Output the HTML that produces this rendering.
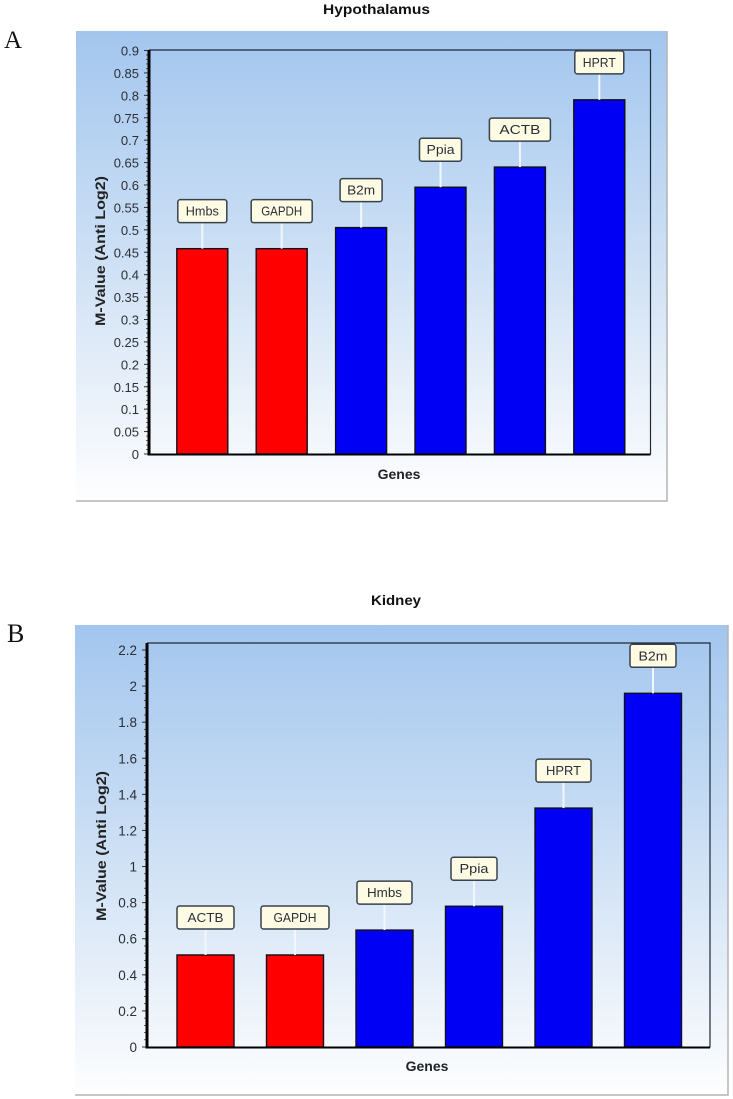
<!DOCTYPE html>
<html lang="en">
<head>
<meta charset="utf-8">
<title>M-Value charts: Hypothalamus and Kidney</title>
<style>
html,body{margin:0;padding:0;background:#fff;}
#stage{display:block;width:733px;height:1099px;}
text{font-family:"Liberation Sans",Arial,sans-serif;}
.soft{filter:blur(0.35px);}
</style>
</head>
<body>
<svg id="stage" xmlns="http://www.w3.org/2000/svg" width="733" height="1099" viewBox="0 0 733 1099">
  <defs>
    <linearGradient id="panelFill" x1="0" y1="0" x2="0" y2="1">
      <stop offset="0" stop-color="#a3c6ee"/>
      <stop offset="0.5" stop-color="#cfe1f5"/>
      <stop offset="0.85" stop-color="#f0f5fb"/>
      <stop offset="1" stop-color="#fefeff"/>
    </linearGradient>
  </defs>
  <text x="4" y="48" font-size="25" style="font-family:'Liberation Serif',serif" fill="#111">A</text>
  <text x="7" y="642" font-size="26" style="font-family:'Liberation Serif',serif" fill="#111">B</text>
  <text x="376.5" y="14" font-size="13.5" font-weight="bold" text-anchor="middle" fill="#111" textLength="107" lengthAdjust="spacingAndGlyphs">Hypothalamus</text>
  <text x="396" y="605" font-size="13.5" font-weight="bold" text-anchor="middle" fill="#111" textLength="50" lengthAdjust="spacingAndGlyphs">Kidney</text>
  <g id="chart-a" class="soft"></g>
  <g id="chart-b" class="soft"></g>
</svg>
<script>
const hypoCategories = ["Hmbs", "GAPDH", "B2m", "Ppia", "ACTB", "HPRT"];
const hypoValues = [0.458, 0.458, 0.505, 0.595, 0.64, 0.79];
const hypoTickLabels = ["0", "0.05", "0.1", "0.15", "0.2", "0.25", "0.3", "0.35", "0.4", "0.45", "0.5", "0.55", "0.6", "0.65", "0.7", "0.75", "0.8", "0.85", "0.9"];
const hypoStableCount = 2;

const kidneyCategories = ["ACTB", "GAPDH", "Hmbs", "Ppia", "HPRT", "B2m"];
const kidneyValues = [0.51, 0.51, 0.648, 0.78, 1.324, 1.96];
const kidneyTickLabels = ["0", "0.2", "0.4", "0.6", "0.8", "1", "1.2", "1.4", "1.6", "1.8", "2", "2.2"];
const kidneyStableCount = 2;

const NS = "http://www.w3.org/2000/svg";

function make(parent, tag, attrs, text) {
  const el = document.createElementNS(NS, tag);
  for (const k in attrs) el.setAttribute(k, attrs[k]);
  if (text !== undefined) el.textContent = text;
  parent.appendChild(el);
  return el;
}

function drawChart(root, categories, values, tickLabels, stableCount, cfg) {
  const ticks = tickLabels.map(Number);
  const domainMax = ticks[ticks.length - 1];
  const yScale = function (v) {
    return cfg.zeroY - (v / domainMax) * (cfg.zeroY - cfg.maxTickY);
  };
  const xScale = function (i) {
    return cfg.firstCenter + i * cfg.step;
  };

  const panel = make(root, "rect", {x: cfg.panelX, y: cfg.panelY, width: cfg.panelW, height: cfg.panelH, fill: "url(#panelFill)"});
  
  

  const panelEdge = make(root, "path", {
    d: "M" + cfg.panelX + " " + (cfg.panelY + cfg.panelH) + "H" + (cfg.panelX + cfg.panelW) + "V" + cfg.panelY,
    fill: "none", stroke: "#b4b4b4", "stroke-width": 1.5
  });
  
  

  const frame = make(root, "path", {
    d: "M" + cfg.left + " " + cfg.top + "H" + cfg.right + "V" + cfg.bottom,
    fill: "none", stroke: "#1c2a3a", "stroke-width": 1.2
  });
  
  

  const stepV = ticks[1] - ticks[0];
  for (let v = 0; v <= domainMax + 1e-9; v += stepV / 5) {
    const minor = make(root, "line", {x1: cfg.left - 3, x2: cfg.left, y1: yScale(v), y2: yScale(v), stroke: "#222", "stroke-width": 0.7});
    
    
  }

  tickLabels.forEach(function (label, i) {
    const y = yScale(ticks[i]);
    const tick = make(root, "line", {x1: cfg.left - 5, x2: cfg.left, y1: y, y2: y, stroke: "#333", "stroke-width": 1});
    
    
    const tickText = make(root, "text", {x: cfg.left - 10, y: y + 5, "font-size": cfg.tickFont, "text-anchor": "end", fill: "#2b2f36"}, label);
    
    
  });

  categories.forEach(function (name, i) {
    const cx = xScale(i);
    const topY = yScale(values[i]);
    const bar = make(root, "rect", {
      x: cx - cfg.barW / 2, y: topY, width: cfg.barW, height: cfg.zeroY - topY,
      fill: i < stableCount ? "#ff0000" : "#0000f5", stroke: "#10101a", "stroke-width": 1.4
    });
    
    

    const boxBottom = Math.max(topY - 26, cfg.top + 23);
    const stem = make(root, "line", {x1: cx, x2: cx, y1: boxBottom, y2: topY, stroke: "#f2f7fd", "stroke-width": 2});
    
    

    const boxW = cfg.boxWidths[name];
    const box = make(root, "rect", {
      x: cx - boxW / 2, y: boxBottom - 23, width: boxW, height: 23, rx: 2.5,
      fill: "#fdfbe4", stroke: "#39424c", "stroke-width": 1.5
    });
    
    

    const labelText = make(root, "text", {
      x: cx, y: boxBottom - 7, "font-size": 13, "text-anchor": "middle", fill: "#2b2f36",
      textLength: Math.round(boxW * cfg.textRatio), lengthAdjust: "spacingAndGlyphs"
    }, name);
    
    
  });

  const yAxis = make(root, "line", {x1: cfg.left, x2: cfg.left, y1: cfg.top, y2: cfg.bottom + 1, stroke: "#000", "stroke-width": 3});
  
  

  const xAxis = make(root, "line", {x1: cfg.left, x2: cfg.right, y1: cfg.bottom, y2: cfg.bottom, stroke: "#000", "stroke-width": 2});
  
  

  const yTitle = make(root, "text", {
    x: 0, y: 0, "font-size": 14, "font-weight": "bold", "text-anchor": "middle", fill: "#222",
    textLength: 150, lengthAdjust: "spacingAndGlyphs",
    transform: "translate(" + cfg.yTitleX + " " + cfg.yTitleY + ") rotate(-90)"
  }, "M-Value (Anti Log2)");
  
  

  const xTitle = make(root, "text", {x: cfg.xTitleX, y: cfg.xTitleY, "font-size": 14, "font-weight": "bold", "text-anchor": "middle", fill: "#222"}, "Genes");
  
  
}

drawChart(document.getElementById("chart-a"), hypoCategories, hypoValues, hypoTickLabels, hypoStableCount, {
  panelX: 76, panelY: 31, panelW: 591, panelH: 470,
  left: 149, right: 650.5, top: 50, bottom: 454.5, zeroY: 454, maxTickY: 50.5,
  firstCenter: 202.3, step: 79.4, barW: 51,
  boxWidths: {Hmbs: 49, GAPDH: 61, B2m: 42, Ppia: 42, ACTB: 61, HPRT: 49},
  textRatio: 0.67, tickFont: 13,
  yTitleX: 105, yTitleY: 251, xTitleX: 399, xTitleY: 479
});

drawChart(document.getElementById("chart-b"), kidneyCategories, kidneyValues, kidneyTickLabels, kidneyStableCount, {
  panelX: 75, panelY: 625, panelW: 653, panelH: 470,
  left: 147, right: 710, top: 643, bottom: 1047.5, zeroY: 1047, maxTickY: 650,
  firstCenter: 205.5, step: 89.5, barW: 57,
  boxWidths: {ACTB: 57, GAPDH: 68, Hmbs: 55, Ppia: 46, HPRT: 55, B2m: 46},
  textRatio: 0.63, tickFont: 13.5,
  yTitleX: 106, yTitleY: 846, xTitleX: 427, xTitleY: 1071
});
</script>
</body>
</html>
